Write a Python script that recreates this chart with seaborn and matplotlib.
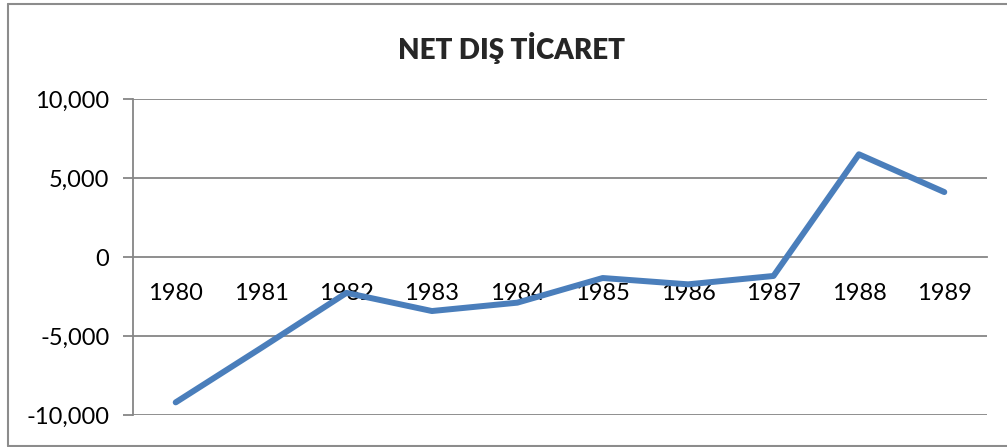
import numpy as np
import pandas as pd
import matplotlib
matplotlib.use("Agg")
from matplotlib import pyplot as plt
from matplotlib.lines import Line2D
import seaborn as sns

# chart data
years = ["1980", "1981", "1982", "1983", "1984", "1985", "1986", "1987", "1988", "1989"]
net_trade = [-9200, -5760, -2270, -3420, -2890, -1330, -1730, -1200, 6500, 4110]
y_ticks = [-10000, -5000, 0, 5000, 10000]
title = "NET DIŞ TİCARET"

sns.set_style("white")
plt.rcParams['font.family'] = ['Lato', 'DejaVu Sans']

df = pd.DataFrame({"year": years, "value": net_trade})

fig = plt.figure(figsize=(10.07, 4.47), dpi=100)
ax = fig.add_axes([133 / 1007, 32 / 447, 854 / 1007, 316 / 447])

# gridlines first so the line sits on top
grid_color = "#868686"
for t in y_ticks:
    if t != 0:
        ax.axhline(t, color=grid_color, lw=1.3, zorder=1)

sns.lineplot(data=df, x="year", y="value", color="#4A7EBB", lw=4.3,
             sort=False, ax=ax, zorder=3, solid_capstyle="round")

ax.set_xlim(-0.5, len(years) - 0.5)
ax.set_ylim(-10000, 10000)
ax.set_yticks(y_ticks)
ax.set_yticklabels([f"{t:,}" for t in y_ticks])
ax.set_xlabel("")
ax.set_ylabel("")

# category axis crosses at zero
for side in ["top", "right"]:
    ax.spines[side].set_visible(False)
ax.spines["bottom"].set_position(("data", 0))
ax.spines["bottom"].set_color(grid_color)
ax.spines["bottom"].set_linewidth(1.3)
ax.spines["left"].set_color(grid_color)
ax.spines["left"].set_linewidth(1.3)

ax.set_xticks(np.arange(len(years)))
ax.set_xticks(np.arange(len(years) + 1) - 0.5, minor=True)
ax.tick_params(axis="x", which="major", length=0, pad=19, labelsize=17, labelcolor="black")
ax.tick_params(axis="x", which="minor", direction="out", length=6.5, width=1.3, color=grid_color)
ax.tick_params(axis="y", which="major", direction="out", length=7, width=1.3,
               color=grid_color, pad=10, labelsize=17, labelcolor="black", left=True)

fig.text(0.508, 0.893, title, ha="center", va="center", fontsize=20, fontweight="heavy")

# outer chart border
border = "#8c8c8c"
fig.add_artist(Line2D([8 / 1007, 8 / 1007], [0.002, 1 - 4 / 447], transform=fig.transFigure, color=border, lw=1.5))
fig.add_artist(Line2D([8 / 1007, 1.0], [1 - 4 / 447, 1 - 4 / 447], transform=fig.transFigure, color=border, lw=1.5))
fig.add_artist(Line2D([8 / 1007, 1.0], [0.002, 0.002], transform=fig.transFigure, color=border, lw=1.5))

plt.savefig("out.png", dpi=100)
